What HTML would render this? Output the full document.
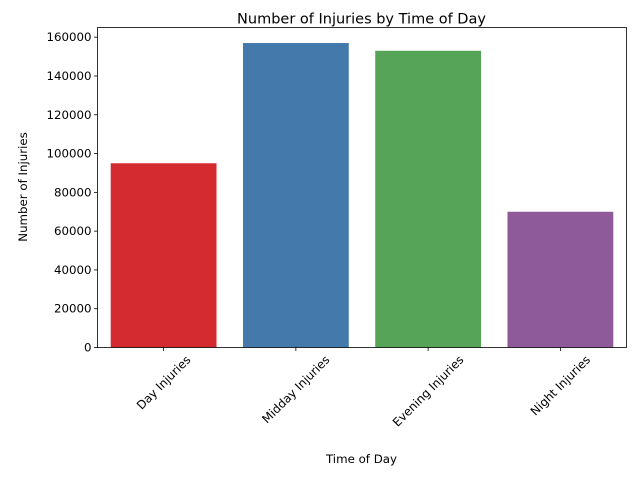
<!DOCTYPE html>
<html><head><meta charset="utf-8"><style>
body{margin:0;background:#fff}
svg{font-family:"DejaVu Sans","Liberation Sans",sans-serif;display:block}
</style></head><body>
<svg id="chart" width="640" height="480" viewBox="0 0 640 480">
<text x="361.5" y="23.5" font-size="14.5" text-anchor="middle">Number of Injuries by Time of Day</text>
<text x="361.5" y="463" font-size="11.8" text-anchor="middle">Time of Day</text>
<text x="0" y="0" font-size="11.8" text-anchor="middle" transform="translate(27,187) rotate(-90)">Number of Injuries</text>
<g id="bars"></g><g id="yticks"></g><g id="xticks"></g>
<rect x="97.5" y="27.5" width="529" height="320" fill="none" stroke="#000" stroke-width="0.8"/>
</svg>
<script>
const categories=["Day Injuries","Midday Injuries","Evening Injuries","Night Injuries"];
const values=[95000,157000,153000,70000];
const yTickValues=[0,20000,40000,60000,80000,100000,120000,140000,160000];
const colors=["#d32b2f","#4479ab","#56a457","#8f5a99"];
const L=97.5,R=626.5,T=27.5,B=347.5,yMax=165000;
const ns="http://www.w3.org/2000/svg";
const y=v=>B-(v/yMax)*(B-T);
const band=(R-L)/categories.length;
const xc=i=>L+band*(i+0.5);
function mk(t,a,p){const e=document.createElementNS(ns,t);for(const k in a)e.setAttribute(k,a[k]);p.appendChild(e);return e;}
const bars=document.getElementById('bars'),yt=document.getElementById('yticks'),xt=document.getElementById('xticks');
values.forEach((v,i)=>{
 const r=mk('rect',{x:xc(i)-band*0.4,y:y(v),width:band*0.8,height:B-y(v),fill:colors[i]},bars);
 
 
});
yTickValues.forEach(v=>{
 const l=mk('line',{x1:L-3.5,x2:L,y1:y(v),y2:y(v),stroke:'#000','stroke-width':0.8},yt);
 
 
 const t=mk('text',{x:L-6,y:y(v),'font-size':11.8,'text-anchor':'end','dominant-baseline':'central'},yt);
 t.textContent=v;
 
 
});
categories.forEach((c,i)=>{
 const l=mk('line',{x1:xc(i),x2:xc(i),y1:B,y2:B+3.5,stroke:'#000','stroke-width':0.8},xt);
 
 
 const t=mk('text',{x:0,y:0,'font-size':11.8,'text-anchor':'middle','dominant-baseline':'central'},xt);
 t.textContent=c;
 
 
 const w=t.getComputedTextLength();
 const h=(w+12)*0.7071/2;
 t.setAttribute('transform','translate('+xc(i)+','+(B+6+h)+') rotate(-45)');
});
</script>
</body></html>
